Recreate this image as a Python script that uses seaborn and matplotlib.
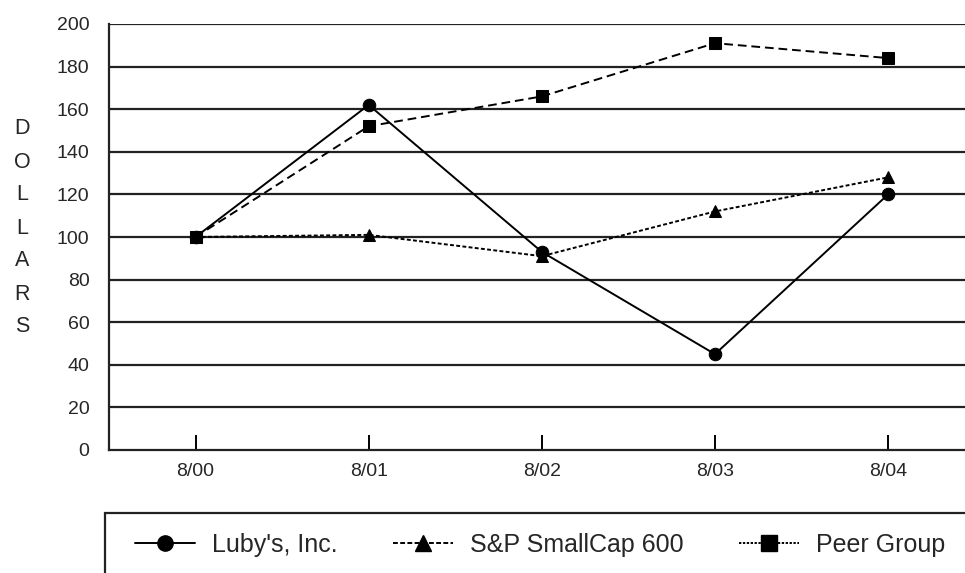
import matplotlib
matplotlib.use("Agg")
import matplotlib.pyplot as plt
import seaborn as sns
import pandas as pd
from matplotlib.lines import Line2D
from matplotlib.patches import Rectangle

periods = ["8/00", "8/01", "8/02", "8/03", "8/04"]
lubys = [100, 162, 93, 45, 120]
sp600 = [100, 101, 91, 112, 128]
peer = [100, 152, 166, 191, 184]
series_names = ["Luby's, Inc.", "S&P SmallCap 600", "Peer Group"]
y_ticks = [0, 20, 40, 60, 80, 100, 120, 140, 160, 180, 200]

sns.set_theme(style="white")
plt.rcParams['font.family'] = ['Liberation Sans', 'DejaVu Sans']

df = pd.DataFrame({
    "period": periods * 3,
    "x": list(range(len(periods))) * 3,
    "value": lubys + sp600 + peer,
    "series": [series_names[0]] * 5 + [series_names[1]] * 5 + [series_names[2]] * 5,
})

fig = plt.figure(figsize=(9.65, 5.73), dpi=100)
ax = fig.add_axes([109 / 965, 1 - 450 / 573, (965 - 109) / 965 + 0.01, 426 / 573])

for yv in y_ticks[1:]:
    ax.axhline(yv, color="#222222", lw=1.6, zorder=1)

styles = {
    series_names[0]: dict(ls="-", marker="o", ms=9, lw=1.4),
    series_names[1]: dict(ls=(0, (2.0, 1.2)), marker="^", ms=9, lw=1.4),
    series_names[2]: dict(ls=(0, (4.5, 2.5)), marker="s", ms=9, lw=1.4),
}
for name in series_names:
    sub = df[df.series == name]
    st = styles[name]
    sns.lineplot(data=sub, x="x", y="value", ax=ax, color="black",
                 marker=st["marker"], markersize=st["ms"], lw=st["lw"],
                 markeredgecolor="black", markerfacecolor="black", zorder=3)
    ax.lines[-1].set_linestyle(st["ls"])

ax.set_xlim(-0.5, 4.5)
ax.set_ylim(0, 200)
ax.set_yticks(y_ticks)
ax.set_xticks(range(len(periods)))
ax.set_xticklabels(periods)
ax.set_xlabel("")
ax.set_ylabel("")
ax.tick_params(axis="x", direction="in", length=11, width=1.4, color="black",
               labelsize=14, pad=9, bottom=True)
ax.tick_params(axis="y", length=0, labelsize=14, pad=14)
for s in ["top", "right"]:
    ax.spines[s].set_visible(False)
for s in ["left", "bottom"]:
    ax.spines[s].set_color("#222222")
    ax.spines[s].set_linewidth(1.6)
ax.spines["left"].set_bounds(0, 200)

fig.text(22 / 965, 1 - 228 / 573, "D\nO\nL\nL\nA\nR\nS", ha="center", va="center",
         fontsize=15.5, linespacing=1.75)

fig.patches.append(Rectangle((105 / 965, -0.1), 1.0, 1 - 513 / 573 + 0.1,
                             transform=fig.transFigure, fill=False,
                             edgecolor="#222222", lw=1.6))

handles = [
    Line2D([], [], color="black", ls="-", marker="o", ms=11, lw=1.4),
    Line2D([], [], color="black", ls=(0, (2.5, 1.2)), marker="^", ms=11, lw=1.4),
    Line2D([], [], color="black", ls=(0, (1.2, 0.8)), marker="s", ms=11, lw=1.4),
]
fig.legend(handles, series_names, loc="center left",
           bbox_to_anchor=(112 / 965, 1 - 545 / 573), ncol=3, frameon=False,
           fontsize=18, handlelength=2.4, columnspacing=2.2, handletextpad=0.7)

fig.savefig("out.png", dpi=100)
